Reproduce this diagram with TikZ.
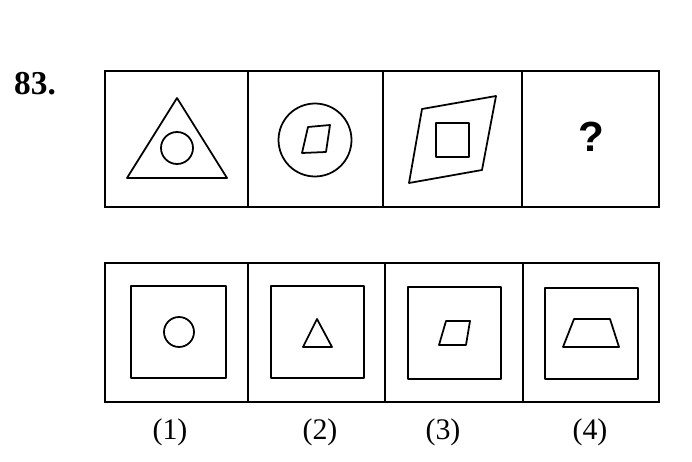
\documentclass[tikz,border=0pt]{standalone}
\usepackage{fontspec}
\setmainfont{Liberation Serif}
\newfontfamily\qfont{Liberation Sans}
\tikzset{
  cell/.style={draw, line width=1.1pt, inner sep=0pt},
  fig/.style={line width=1pt, line join=round},
  lbl/.style={font=\fontsize{17}{19}\selectfont},
}
\begin{document}
\begin{tikzpicture}[x=0.02cm, y=-0.02cm]
\useasboundingbox (0,0) rectangle (692,462);

\node[font=\bfseries\fontsize{19}{21}\selectfont] (qno) at (35,84) {83.};

% question row
\node[cell, minimum width=2.86cm, minimum height=2.72cm] (t1) at (176.5,139) {};
\node[cell, minimum width=2.70cm, minimum height=2.72cm] (t2) at (315.5,139) {};
\node[cell, minimum width=2.78cm, minimum height=2.72cm] (t3) at (452.5,139) {};
\node[cell, minimum width=2.74cm, minimum height=2.72cm] (t4) at (590.5,139) {};

\draw[fig] (177,98) -- (227,178) -- (127,178) -- cycle;
\node[fig, draw, circle, minimum size=0.64cm, inner sep=0pt] (c1) at (177,148) {};

\node[fig, draw, circle, minimum size=1.46cm, inner sep=0pt] (c2) at (315,140) {};
\draw[fig] (308,127) -- (330,125) -- (326,152) -- (302,153) -- cycle;

\draw[fig] (422,109) -- (496,96) -- (482,170) -- (409,183) -- cycle;
\draw[fig] (436,123) rectangle (469,157);

\node[font=\qfont\bfseries\fontsize{24}{26}\selectfont] (qm) at (591,137) {?};

% answer row
\node[cell, minimum width=2.86cm, minimum height=2.78cm] (b1) at (176.5,332.5) {};
\node[cell, minimum width=2.74cm, minimum height=2.78cm] (b2) at (316.5,332.5) {};
\node[cell, minimum width=2.76cm, minimum height=2.78cm] (b3) at (454,332.5) {};
\node[cell, minimum width=2.72cm, minimum height=2.78cm] (b4) at (591,332.5) {};

\node[fig, draw, minimum width=1.90cm, minimum height=1.84cm, inner sep=0pt] (i1) at (178.5,332) {};
\node[fig, draw, minimum width=1.86cm, minimum height=1.84cm, inner sep=0pt] (i2) at (317.5,332) {};
\node[fig, draw, minimum width=1.86cm, minimum height=1.84cm, inner sep=0pt] (i3) at (454.5,333) {};
\node[fig, draw, minimum width=1.86cm, minimum height=1.82cm, inner sep=0pt] (i4) at (591.5,333.5) {};

\node[fig, draw, circle, minimum size=0.60cm, inner sep=0pt] (c3) at (179,332) {};
\draw[fig] (317,319) -- (332,347) -- (303,347) -- cycle;
\draw[fig] (446,321) -- (470,321) -- (466,345) -- (439,345) -- cycle;
\draw[fig] (574,319) -- (610,319) -- (619,347) -- (563,347) -- cycle;

\node[lbl] (l1) at (170,432) {(1)};
\node[lbl] (l2) at (320,432) {(2)};
\node[lbl] (l3) at (443,432) {(3)};
\node[lbl] (l4) at (590,432) {(4)};
\end{tikzpicture}
\end{document}
